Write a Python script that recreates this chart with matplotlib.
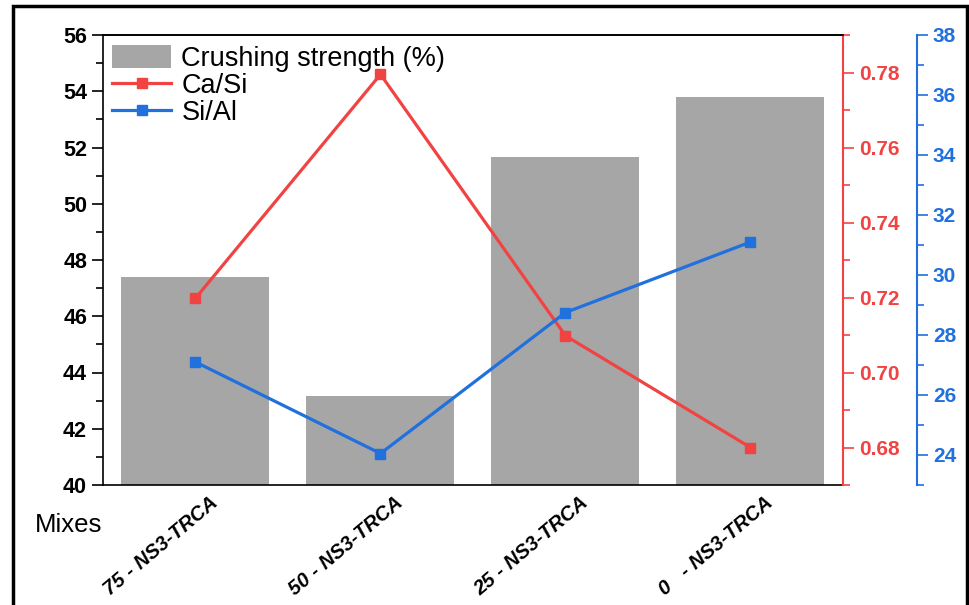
import matplotlib
matplotlib.use('Agg')
import matplotlib.pyplot as plt
import matplotlib.transforms as mtransforms
from matplotlib.patches import Rectangle
from matplotlib.ticker import MultipleLocator

mixes = ['75 - NS3-TRCA', '50 - NS3-TRCA', '25 - NS3-TRCA', '0   - NS3-TRCA']
crushing = [47.4, 43.15, 51.65, 53.8]
ca_si = [0.7198, 0.7795, 0.7098, 0.6800]
si_al = [27.1, 24.05, 28.75, 31.1]

gray = '#a6a6a6'
red = '#f24343'
blue = '#2070dd'
plt.rcParams['font.family'] = ['Liberation Sans', 'DejaVu Sans']

fig = plt.figure(figsize=(9.7, 6.05), dpi=100)
ax = fig.add_axes([103/970, 1-485/605, 740/970, 450/605])
x = range(len(mixes))
bars = ax.bar(x, crushing, width=0.8, color=gray, label='Crushing strength (%)')
ax.set_xlim(-0.5, 3.5)
ax.set_ylim(40, 56)
ax.yaxis.set_major_locator(MultipleLocator(2))
ax.yaxis.set_minor_locator(MultipleLocator(1))
ax.tick_params(axis='y', which='major', direction='out', length=8, width=1.2, labelsize=15.5)
ax.tick_params(axis='y', which='minor', direction='out', length=5, width=1.2)
ax.tick_params(axis='x', length=0, pad=6)
for lab in ax.get_yticklabels():
    lab.set_fontweight('bold')
ax.set_xticks(list(x))
ax.set_xticklabels(mixes, rotation=40, ha='right', rotation_mode='anchor',
                   fontsize=14.5, fontweight='bold', fontstyle='italic')
shift = mtransforms.ScaledTranslation(14/100, 0, fig.dpi_scale_trans)
for lab in ax.get_xticklabels():
    lab.set_transform(lab.get_transform() + shift)
for sp in ax.spines.values():
    sp.set_linewidth(1.2)
ax.spines['right'].set_visible(False)
fig.text(35/970, 1-525/605, 'Mixes', fontsize=18.5, va='center', ha='left')

ax2 = ax.twinx()
l1, = ax2.plot(x, ca_si, color=red, lw=2.3, marker='s', ms=6.5, label='Ca/Si')
ax2.set_ylim(0.67, 0.79)
ax2.yaxis.set_major_locator(MultipleLocator(0.02))
ax2.yaxis.set_minor_locator(MultipleLocator(0.01))
ax2.yaxis.set_major_formatter(matplotlib.ticker.FormatStrFormatter('%.2f'))
ax2.spines['right'].set_color(red)
ax2.spines['right'].set_linewidth(1.5)
for s in ['left', 'top', 'bottom']:
    ax2.spines[s].set_visible(False)
ax2.tick_params(axis='y', which='major', colors=red, length=8, width=1.2, labelsize=15)
ax2.tick_params(axis='y', which='minor', colors=red, length=5, width=1.2)
for lab in ax2.get_yticklabels():
    lab.set_fontweight('bold')

ax3 = ax.twinx()
ax3.spines['right'].set_position(('axes', 1.1))
l2, = ax3.plot(x, si_al, color=blue, lw=2.3, marker='s', ms=6.5, label='Si/Al')
ax3.set_ylim(23, 38)
ax3.yaxis.set_major_locator(MultipleLocator(2))
ax3.yaxis.set_minor_locator(MultipleLocator(1))
ax3.spines['right'].set_color(blue)
ax3.spines['right'].set_linewidth(1.5)
for s in ['left', 'top', 'bottom']:
    ax3.spines[s].set_visible(False)
ax3.tick_params(axis='y', which='major', colors=blue, length=8, width=1.2, labelsize=15)
ax3.tick_params(axis='y', which='minor', colors=blue, length=5, width=1.2)
for lab in ax3.get_yticklabels():
    lab.set_fontweight('bold')

# top line of box drawn over twin axes
ax3.plot([0, 1], [1, 1], transform=ax3.transAxes, color='black', lw=1.2, clip_on=False)

leg = ax3.legend([bars, l1, l2], ['Crushing strength (%)', 'Ca/Si', 'Si/Al'],
                 loc='upper left', bbox_to_anchor=(-0.01, 1.013), frameon=False,
                 fontsize=19.5, handlelength=2.2, labelspacing=0.02,
                 handletextpad=0.37, borderaxespad=0.2, handleheight=0.9)

fig.patches.append(Rectangle((13/970, -0.05), 954/970, 1.05 - 6/605,
                             transform=fig.transFigure, fill=False,
                             edgecolor='black', lw=2.5, clip_on=False))

plt.savefig('out.png', dpi=100)
plt.close()
